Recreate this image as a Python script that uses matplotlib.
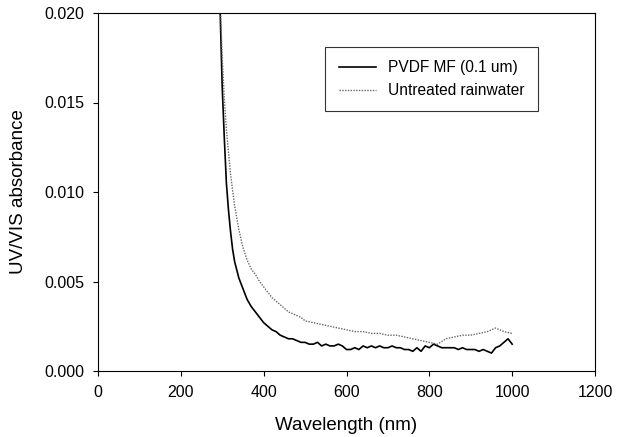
import matplotlib
matplotlib.use("Agg")
import matplotlib.pyplot as plt

plt.rcParams['font.family'] = ['Liberation Sans', 'DejaVu Sans']

pvdf_wl = [290, 295, 300, 305, 310, 315, 320, 325, 330, 340, 350, 360, 370, 380, 390,
           400, 410, 420, 430, 440, 450, 460, 470, 480, 490, 500, 510, 520, 530, 540,
           550, 560, 570, 580, 590, 600, 610, 620, 630, 640, 650, 660, 670, 680, 690,
           700, 710, 720, 730, 740, 750, 760, 770, 780, 790, 800, 810, 820, 830, 840,
           850, 860, 870, 880, 890, 900, 910, 920, 930, 940, 950, 960, 970, 980, 990, 1000]
pvdf_abs = [0.0230, 0.0200, 0.0158, 0.0130, 0.0105, 0.0090, 0.0078, 0.0068, 0.0061, 0.0052,
            0.0046, 0.0040, 0.0036, 0.0033, 0.0030, 0.0027, 0.0025, 0.0023, 0.0022, 0.0020,
            0.0019, 0.0018, 0.0018, 0.0017, 0.0016, 0.0016, 0.0015, 0.0015, 0.0016, 0.0014,
            0.0015, 0.0014, 0.0014, 0.0015, 0.0014, 0.0012, 0.0012, 0.0013, 0.0012, 0.0014,
            0.0013, 0.0014, 0.0013, 0.0014, 0.0013, 0.0013, 0.0014, 0.0013, 0.0013, 0.0012,
            0.0012, 0.0011, 0.0013, 0.0011, 0.0014, 0.0013, 0.0015, 0.0014, 0.0013, 0.0013,
            0.0013, 0.0013, 0.0012, 0.0013, 0.0012, 0.0012, 0.0012, 0.0011, 0.0012, 0.0011,
            0.0010, 0.0013, 0.0014, 0.0016, 0.0018, 0.0015]

raw_wl = [290, 296, 300, 305, 310, 320, 330, 340, 350, 360, 370, 380, 390, 400, 410, 420,
          430, 440, 450, 460, 470, 480, 490, 500, 520, 540, 560, 580, 600, 620, 640, 660,
          680, 700, 720, 740, 760, 780, 800, 820, 840, 860, 880, 900, 920, 940, 960, 980, 1000]
raw_abs = [0.0240, 0.0200, 0.0175, 0.0152, 0.0135, 0.0110, 0.0092, 0.0079, 0.0069, 0.0062,
           0.0057, 0.0054, 0.0050, 0.0047, 0.0044, 0.0041, 0.0039, 0.0037, 0.0035, 0.0033,
           0.0032, 0.0031, 0.0030, 0.0028, 0.0027, 0.0026, 0.0025, 0.0024, 0.0023, 0.0022,
           0.0022, 0.0021, 0.0021, 0.0020, 0.0020, 0.0019, 0.0018, 0.0017, 0.0016, 0.0015,
           0.0018, 0.0019, 0.0020, 0.0020, 0.0021, 0.0022, 0.0024, 0.0022, 0.0021]

labels = ["PVDF MF (0.1 um)", "Untreated rainwater"]

fig = plt.figure(figsize=(6.25, 4.37), dpi=100)
ax = fig.add_axes([98/625, 1-371/437, (595-98)/625, (371-13)/437])

ax.plot(pvdf_wl, pvdf_abs, color='black', lw=1.2, label=labels[0])
ax.plot(raw_wl, raw_abs, color='#666666', lw=1.0, linestyle=(0, (1, 1)), label=labels[1])

ax.set_xlim(0, 1200)
ax.set_ylim(0, 0.020)
ax.set_xticks([0, 200, 400, 600, 800, 1000, 1200])
ax.set_yticks([0.000, 0.005, 0.010, 0.015, 0.020])
ax.set_yticklabels(['0.000', '0.005', '0.010', '0.015', '0.020'])
ax.tick_params(direction='out', length=3.5, width=0.8, labelsize=11.5, pad=6.5,
               top=False, right=False)
for s in ax.spines.values():
    s.set_linewidth(0.8)
ax.set_xlabel("Wavelength (nm)", fontsize=13.5)
ax.set_ylabel("UV/VIS absorbance", fontsize=13.5)
ax.xaxis.set_label_coords(0.5, (371-417)/358)
ax.yaxis.set_label_coords((27-98)/497, 0.5)

leg = ax.legend(loc='upper right', bbox_to_anchor=((538-98)/497, (371-47)/358),
                borderaxespad=0, fontsize=11.2, frameon=True, fancybox=False,
                edgecolor='black', handlelength=2.4, handletextpad=0.8,
                borderpad=0.85, labelspacing=0.5)
leg.get_frame().set_linewidth(0.8)

fig.savefig("out.png", dpi=100)
